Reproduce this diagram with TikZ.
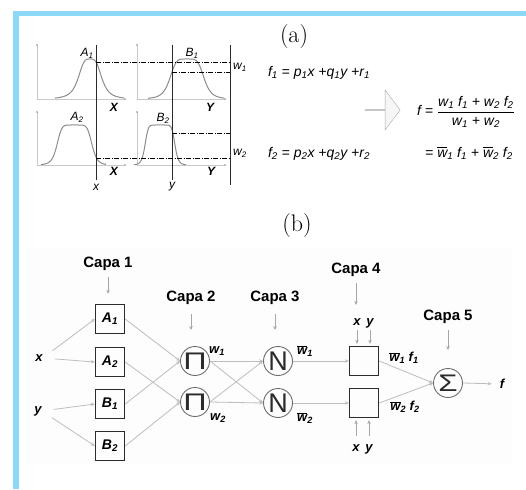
\documentclass[tikz,border=0pt]{standalone}
\usepackage{amsmath}
\usepackage{graphicx}
\usepackage{fontspec}
\usepackage{tikz}
\usetikzlibrary{arrows.meta,shapes.arrows}
\newfontfamily\arialf{Liberation Sans}
\definecolor{Frame}{HTML}{8CD8F6}
\definecolor{Curve}{HTML}{8C8C8C}
\definecolor{Axis}{HTML}{C8C8C8}
\definecolor{Wire}{HTML}{BDBDBD}
\definecolor{Drop}{HTML}{A6A6A6}
\definecolor{Ring}{HTML}{6E6E6E}
\definecolor{Ink}{HTML}{2B2B2B}
\definecolor{Panel}{HTML}{FDFDFD}
\newcommand{\sub}[1]{\textsubscript{#1}}
\newcommand{\wbar}{\ensuremath{\overline{\mbox{w}}}}

\begin{document}
\begin{tikzpicture}[x=1pt,y=-1pt,
  axisline/.style={draw=Axis,line width=0.8pt},
  bell/.style={draw=Curve,line width=1pt},
  cutline/.style={draw=Ink,line width=1pt},
  cutlevel/.style={draw=black,line width=0.9pt,dash pattern=on 5pt off 1.5pt on 1pt off 1.5pt},
  tag/.style={font=\arialf\itshape\fontsize{12}{14}\selectfont,inner sep=0pt},
  bigtag/.style={font=\arialf\bfseries\itshape\fontsize{12}{14}\selectfont,inner sep=0pt},
  fml/.style={font=\arialf\itshape\fontsize{14}{16}\selectfont,inner sep=0pt},
  part/.style={font=\fontsize{24}{28}\selectfont,inner sep=0pt},
  capa/.style={font=\arialf\bfseries\fontsize{15}{17}\selectfont,inner sep=0pt},
  lab/.style={font=\arialf\bfseries\itshape\fontsize{13}{15}\selectfont,inner sep=0pt},
  layerbox/.style={draw=Ink,line width=1.3pt,minimum size=29pt,inner sep=0pt,font=\arialf\bfseries\itshape\fontsize{14}{16}\selectfont},
  op/.style={circle,draw=Ring,line width=0.9pt,minimum size=29pt,inner sep=0pt,text=Ink},
  wire/.style={draw=Wire,line width=0.8pt,-{Stealth[length=4pt,width=3.5pt]}},
  drop/.style={draw=Drop,line width=0.8pt,-{Stealth[length=4pt,width=3.5pt]}}
]
\useasboundingbox (0,0) rectangle (526,489);
\fill[Frame] (13,11) rectangle (526,16);
\fill[Frame] (13,11) rectangle (19,489);

\node[part] (pa) at (294,37) {(a)};
\draw[axisline] (37,45) -- (37,99) -- (125,99);
\draw[axisline] (137,45) -- (137,99) -- (225,99);
\draw[axisline] (37,112) -- (37,165) -- (125,165);
\draw[axisline] (137,112) -- (137,165) -- (225,165);
\foreach \p in {(37,45),(125,99),(137,45),(225,99),(37,112),(125,165),(137,112),(225,165)}
  \fill[Curve] \p circle (0.8);
\draw[bell] plot[domain=55:124,samples=90,smooth] (\x,{99-40/(1+pow(abs((\x-90)/12.2)+0.0001,3.5))});
\draw[bell] plot[domain=148:224,samples=90,smooth] (\x,{99-40/(1+pow(abs((\x-187)/17.4)+0.0001,5))});
\draw[bell] plot[domain=41:106,samples=90,smooth] (\x,{165-40/(1+pow(abs((\x-74.5)/17.6)+0.0001,7))});
\draw[bell] plot[domain=134:186,samples=90,smooth] (\x,{165-40/(1+pow(abs((\x-160)/15)+0.0001,9))});
\draw[cutline] (96,45) -- (96,180);
\draw[cutline] (172,45) -- (172,180);
\draw[cutline] (230,45) -- (230,185);
\draw[cutlevel] (96,62) -- (230,62);
\draw[cutlevel] (172,72) -- (230,72);
\draw[cutlevel] (172,133) -- (230,133);
\draw[cutlevel] (96,158) -- (230,158);
\node[tag] (ta1) at (87,53) {A\sub1};
\node[tag] (tb1) at (192,53) {B\sub1};
\node[tag] (ta2) at (77,117) {A\sub2};
\node[tag] (tb2) at (163,118) {B\sub2};
\node[bigtag] (tx1) at (114,107) {X};
\node[bigtag] (ty1) at (210,107) {Y};
\node[bigtag] (tx2) at (114,171) {X};
\node[bigtag] (ty2) at (211,171) {Y};
\node[tag] (tx) at (96,187) {x};
\node[tag] (ty) at (172,187) {y};
\node[tag] (tw1) at (240,67) {w\sub1};
\node[tag] (tw2) at (240,153) {w\sub2};
\node[fml] (f1) at (319,73) {f\sub1 = p\sub1x +q\sub1y +r\sub1};
\node[fml] (f2) at (319,154) {f\sub2 = p\sub2x +q\sub2y +r\sub2};
\node[single arrow,draw=Axis!85!black,fill=gray!7,minimum height=35pt,minimum width=40pt,
  single arrow head extend=10pt,single arrow tip angle=106,inner sep=0pt] (hollow) at (382.5,110) {};
\node[fml] (ftot) at (466,112) {f = $\dfrac{\mbox{w\sub1 f\sub1 + w\sub2 f\sub2}}{\mbox{w\sub1 + w\sub2}}$};
\node[fml] (fbar) at (469,153) {= \wbar\sub1 f\sub1 + \wbar\sub2 f\sub2};

\node[part] (pb) at (297,226) {(b)};
\fill[Panel] (25,248) rectangle (512,465);
\node[capa] (c1) at (108,264) {Capa 1};
\node[capa] (c2) at (191,298) {Capa 2};
\node[capa] (c3) at (275,298) {Capa 3};
\node[capa] (c4) at (356,270) {Capa 4};
\node[capa] (c5) at (448,317) {Capa 5};
\node[layerbox] (a1) at (110,319) {A\sub1};
\node[layerbox] (a2) at (110,362) {A\sub2};
\node[layerbox] (b1) at (110,404) {B\sub1};
\node[layerbox] (b2) at (110,446) {B\sub2};
\node[lab] (x) at (39,358) {x};
\node[lab] (y) at (38,411) {y};
\node[op,font=\arialf\fontsize{24}{24}\selectfont] (p1) at (195,361) {\scalebox{1.35}[1]{Π}};
\node[op,font=\arialf\fontsize{24}{24}\selectfont] (p2) at (195,402) {\scalebox{1.35}[1]{Π}};
\node[op,font=\arialf\fontsize{27}{27}\selectfont] (n1) at (278,361) {N};
\node[op,font=\arialf\fontsize{27}{27}\selectfont] (n2) at (278,403) {N};
\node[layerbox] (m1) at (364,361) {};
\node[layerbox] (m2) at (364,403) {};
\node[op,font=\arialf\fontsize{24}{24}\selectfont] (s) at (448,383) {\scalebox{1.3}[1]{Σ}};
\node[lab] (f) at (502,384) {f};
\node[lab,anchor=base] (xt) at (357,325) {x};
\node[lab,anchor=base] (yt) at (370,325) {y};
\node[lab,anchor=base] (xb) at (356,451) {x};
\node[lab,anchor=base] (yb) at (369,451) {y};
\node[lab] (w1) at (217,351) {w\sub1};
\node[lab] (w2) at (218,418) {w\sub2};
\node[lab] (nw1) at (305,351) {\wbar\sub1};
\node[lab] (nw2) at (305,418) {\wbar\sub2};
\node[lab] (o1) at (404,358) {\wbar\sub1 f\sub1};
\node[lab] (o2) at (405,407) {\wbar\sub2 f\sub2};

\draw[drop,shorten <=6pt,shorten >=10pt] (c1.south) -- (c1.south |- a1.north);
\draw[drop,shorten <=9pt,shorten >=16pt] (c2.south) -- (c2.south |- p1.north);
\draw[drop,shorten <=9pt,shorten >=16pt] (c3.south) -- (c3.south |- n1.north);
\draw[drop,shorten <=6pt,shorten >=13pt] (c4.south) -- (c4.south |- xt.north);
\draw[drop,shorten <=6pt,shorten >=18pt] (c5.south) -- (c5.south |- s.north);
\foreach \v in {xt,yt}
  \draw[drop,shorten <=5pt,shorten >=2pt] (\v.base) -- (\v.base |- m1.north);
\foreach \v in {xb,yb}
  \draw[drop,shorten <=8pt,shorten >=2pt] (\v.north) -- (\v.north |- m2.south);
\foreach \t in {a1,a2}
  \draw[wire,shorten <=12pt] (x.east) -- (\t.west);
\foreach \t in {b1,b2}
  \draw[wire,shorten <=12pt] (y.east) -- (\t.west);
\foreach \s/\t in {a1/p1,b1/p1,a2/p2,b2/p2}
  \draw[wire] (\s.east) -- (\t.west);
\foreach \s in {p1,p2}
  \foreach \t in {n1,n2}
    \draw[wire] (\s.east) -- (\t.west);
\draw[wire] (n1.east) -- (m1.west);
\draw[wire] (n2.east) -- (m2.west);
\draw[wire] (m1.east) -- (s.west);
\draw[wire] (m2.east) -- (s.west);
\draw[wire,shorten >=8pt] (s.east) -- (f.west);
\end{tikzpicture}
\end{document}
